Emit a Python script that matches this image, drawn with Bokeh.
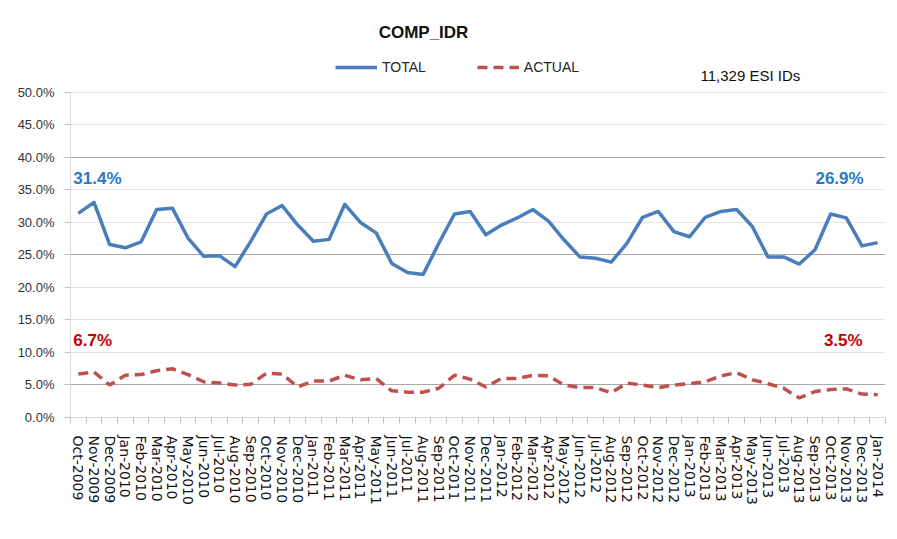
from bokeh.plotting import figure
from bokeh.models import (Range1d, FixedTicker, Legend, LegendItem, Label, Grid,
                          PrintfTickFormatter, ColumnDataSource)
from bokeh.embed import file_html
from bokeh.resources import INLINE

# ---------------- data ----------------
MONTHS = [
    "Oct-2009", "Nov-2009", "Dec-2009",
    "Jan-2010", "Feb-2010", "Mar-2010", "Apr-2010", "May-2010", "Jun-2010",
    "Jul-2010", "Aug-2010", "Sep-2010", "Oct-2010", "Nov-2010", "Dec-2010",
    "Jan-2011", "Feb-2011", "Mar-2011", "Apr-2011", "May-2011", "Jun-2011",
    "Jul-2011", "Aug-2011", "Sep-2011", "Oct-2011", "Nov-2011", "Dec-2011",
    "Jan-2012", "Feb-2012", "Mar-2012", "Apr-2012", "May-2012", "Jun-2012",
    "Jul-2012", "Aug-2012", "Sep-2012", "Oct-2012", "Nov-2012", "Dec-2012",
    "Jan-2013", "Feb-2013", "Mar-2013", "Apr-2013", "May-2013", "Jun-2013",
    "Jul-2013", "Aug-2013", "Sep-2013", "Oct-2013", "Nov-2013", "Dec-2013",
    "Jan-2014",
]
TOTAL = [
    31.4, 33.1, 26.6,
    26.1, 27.0, 32.0, 32.2, 27.6, 24.8, 24.9, 23.2, 27.1, 31.3, 32.6, 29.6,
    27.1, 27.4, 32.8, 30.0, 28.4, 23.7, 22.3, 22.0, 26.8, 31.3, 31.7, 28.1,
    29.6, 30.7, 32.0, 30.2, 27.3, 24.7, 24.5, 23.9, 26.8, 30.8, 31.7, 28.6,
    27.8, 30.8, 31.7, 32.0, 29.4, 24.7, 24.7, 23.6, 25.8, 31.3, 30.7, 26.4,
    26.9,
]
ACTUAL = [
    6.7, 7.0, 5.0,
    6.5, 6.6, 7.2, 7.5, 6.6, 5.5, 5.3, 5.0, 5.1, 6.8, 6.7, 4.7,
    5.6, 5.6, 6.5, 5.8, 6.0, 4.1, 3.9, 3.9, 4.5, 6.5, 5.9, 4.7,
    6.0, 6.0, 6.5, 6.4, 5.0, 4.6, 4.6, 3.8, 5.3, 5.0, 4.6, 5.0,
    5.2, 5.5, 6.4, 6.9, 5.8, 5.2, 4.5, 3.0, 4.0, 4.3, 4.4, 3.6,
    3.5,
]
Y_TICKS = [0, 5, 10, 15, 20, 25, 30, 35, 40, 45, 50]
DARK_GRID = [5, 25, 40]
TITLE = "COMP_IDR"
NOTE = "11,329 ESI IDs"
SERIES_NAMES = ["TOTAL", "ACTUAL"]

# ---------------- figure ----------------
n = len(MONTHS)
idx = list(range(n))
source = ColumnDataSource(dict(x=idx, month=MONTHS, total=TOTAL, actual=ACTUAL))

FONT = "Liberation Sans"
BLUE = "#4a7ebb"
RED = "#c0504d"

p = figure(frame_width=815, frame_height=405, output_backend="svg",
           toolbar_location=None,
           x_range=Range1d(-0.5, n - 0.5), y_range=Range1d(0, 62.3),
           min_border_left=70, min_border_right=10, min_border_top=12,
           min_border_bottom=110)
p.outline_line_color = None
p.background_fill_color = "white"
p.border_fill_color = "white"

# grids
p.xgrid.visible = False
p.ygrid.ticker = FixedTicker(ticks=Y_TICKS[1:])
p.ygrid.grid_line_color = "#e4e4e4"
p.ygrid.grid_line_width = 1
dark = Grid(dimension=1, ticker=FixedTicker(ticks=DARK_GRID),
            grid_line_color="#a8a8a8", grid_line_width=1)
p.add_layout(dark)

# y axis
ya = p.yaxis[0]
ya.ticker = FixedTicker(ticks=Y_TICKS)
ya.formatter = PrintfTickFormatter(format="%.1f%%")
ya.bounds = (0, 50)
ya.axis_line_color = "#d9d9d9"
ya.major_tick_line_color = "#c0c0c0"
ya.major_tick_out = 6
ya.major_tick_in = 0
ya.minor_tick_line_color = None
ya.major_label_standoff = 10
ya.major_label_text_font = FONT
ya.major_label_text_font_size = "13px"
ya.major_label_text_color = "#333333"

# x axis
xa = p.xaxis[0]
xa.ticker = FixedTicker(ticks=idx, minor_ticks=[i - 0.5 for i in range(n + 1)])
xa.major_label_overrides = {i: m for i, m in enumerate(MONTHS)}
xa.major_label_orientation = "vertical"
xa.axis_line_color = "#d9d9d9"
xa.major_tick_line_color = None
xa.major_tick_out = 0
xa.major_tick_in = 0
xa.minor_tick_line_color = "#c0c0c0"
xa.minor_tick_out = 6
xa.minor_tick_in = 0
xa.major_label_standoff = 12
xa.major_label_text_font = "DejaVu Sans"
xa.major_label_text_font_size = "14px"
xa.major_label_text_color = "#111111"

# series
r1 = p.line("x", "total", source=source, line_color=BLUE, line_width=3.5,
            line_join="round")
r2 = p.line("x", "actual", source=source, line_color=RED, line_width=3.5,
            line_dash="10 6")

legend = Legend(items=[LegendItem(label=SERIES_NAMES[0], renderers=[r1]),
                       LegendItem(label=SERIES_NAMES[1], renderers=[r2])],
                location=(265, 340), orientation="horizontal",
                glyph_width=42, glyph_height=20, spacing=51, padding=0, margin=0,
                label_standoff=5, border_line_color=None,
                background_fill_alpha=0,
                label_text_font=FONT, label_text_font_size="14px",
                label_text_color="#262626")
p.add_layout(legend)

# title and note
p.add_layout(Label(x=353, y=385, x_units="screen", y_units="screen", text=TITLE,
                   text_align="center", text_baseline="middle",
                   text_font=FONT, text_font_style="bold",
                   text_font_size="17px", text_color="#111111"))
p.add_layout(Label(x=630, y=342, x_units="screen", y_units="screen", text=NOTE,
                   text_align="left", text_baseline="middle",
                   text_font=FONT, text_font_size="15px", text_color="#111111"))

# data labels at first and last points
LBL_BLUE = "#2a78c4"
LBL_RED = "#c00000"
for xi, val, off, align, ys, col in [
    (0, TOTAL[0], -5, "left", 239, LBL_BLUE),
    (n - 1, TOTAL[-1], -14, "right", 239, LBL_BLUE),
    (0, ACTUAL[0], -5, "left", 77, LBL_RED),
    (n - 1, ACTUAL[-1], -15, "right", 77, LBL_RED),
]:
    p.add_layout(Label(x=xi, y=ys, x_units="data", y_units="screen",
                       x_offset=off, text=f"{val:.1f}%",
                       text_align=align, text_baseline="middle",
                       text_font=FONT, text_font_style="bold",
                       text_font_size="17px", text_color=col))

open("out.html", "w").write(file_html(p, INLINE))
